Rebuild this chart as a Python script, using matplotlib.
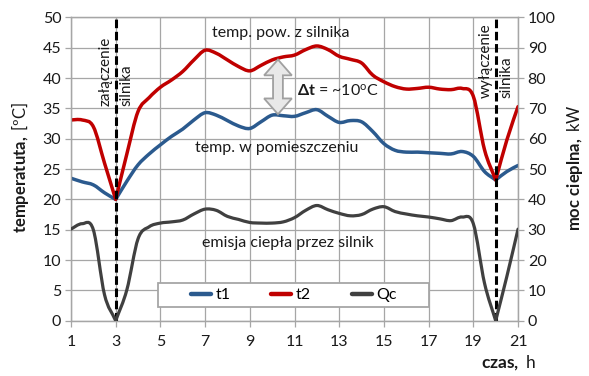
import numpy as np
import matplotlib
matplotlib.use("Agg")
import matplotlib.pyplot as plt
from matplotlib.patches import Polygon, PathPatch, Rectangle
from matplotlib.path import Path
from matplotlib.lines import Line2D

plt.rcParams['font.family'] = ['Lato', 'DejaVu Sans']
plt.rcParams['mathtext.fontset'] = 'custom'
plt.rcParams['mathtext.rm'] = 'Lato'
plt.rcParams['mathtext.bf'] = 'Lato:bold'
plt.rcParams['mathtext.it'] = 'Lato:italic'

# time, h (half-hour readings)
hours = [1.0, 1.5, 2.0, 2.5, 3.0, 3.5, 4.0, 4.5, 5.0, 5.5, 6.0, 6.5, 7.0, 7.5,
         8.0, 8.5, 9.0, 9.5, 10.0, 10.5, 11.0, 11.5, 12.0, 12.5, 13.0, 13.5,
         14.0, 14.5, 15.0, 15.5, 16.0, 16.5, 17.0, 17.5, 18.0, 18.5, 19.0,
         19.5, 20.0, 20.5, 21.0]

# room temperature t1, degC
t1 = [23.5, 22.9, 22.4, 21.1, 20.0, 23.0, 25.7, 27.5, 29.0, 30.4, 31.6, 33.1,
      34.3, 33.9, 33.0, 32.1, 31.7, 32.8, 33.9, 33.8, 33.7, 34.3, 34.8, 33.7,
      32.7, 33.0, 32.8, 31.2, 29.2, 28.1, 27.8, 27.8, 27.7, 27.6, 27.5, 27.9,
      27.1, 24.6, 23.2, 24.6, 25.6]

# engine surface temperature t2, degC
t2 = [33.1, 33.1, 32.0, 26.0, 20.0, 27.5, 34.5, 36.8, 38.5, 39.7, 41.1, 43.0,
      44.6, 44.1, 43.0, 41.9, 41.2, 42.1, 43.0, 43.5, 43.8, 44.7, 45.3, 44.7,
      43.6, 43.1, 42.5, 40.5, 39.4, 38.6, 38.2, 38.3, 38.5, 38.2, 38.1, 38.3,
      37.0, 28.2, 23.2, 29.8, 35.3]

# heat emitted by the engine Qc, kW
qc = [30.2, 32.0, 30.0, 8.6, 0.0, 10.2, 27.0, 31.0, 32.2, 32.6, 33.2, 35.2,
      36.8, 36.4, 34.4, 33.4, 32.4, 32.2, 32.2, 32.6, 34.0, 36.4, 38.0, 36.6,
      35.4, 34.6, 35.0, 36.8, 37.6, 36.0, 35.2, 34.6, 34.2, 33.6, 33.0, 34.2,
      32.0, 12.4, 0.0, 14.6, 30.2]

engine_on = 3
engine_off = 20
x_ticks = list(range(1, 22, 2))

c_t1 = '#2B5A8E'
c_t2 = '#C00000'
c_qc = '#404040'
grid_c = '#A6A6A6'
txt_c = '#1a1a1a'


def smooth_path(x, y, corners=()):
    """Smoothed line through the points (Catmull-Rom as cubic Bezier);
    points listed in `corners` keep a sharp turn."""
    pts = np.column_stack([np.asarray(x, float), np.asarray(y, float)])
    n = len(pts)
    tang = np.zeros_like(pts)
    for i in range(n):
        lo = max(i - 1, 0)
        hi = min(i + 1, n - 1)
        tang[i] = pts[hi] - pts[lo]
    verts = [pts[0]]
    codes = [Path.MOVETO]
    for i in range(n - 1):
        p1, p2 = pts[i], pts[i + 1]
        t_out = 2 * (p2 - p1) if i in corners else tang[i]
        t_in = 2 * (p2 - p1) if (i + 1) in corners else tang[i + 1]
        verts += [p1 + t_out / 6.0, p2 - t_in / 6.0, p2]
        codes += [Path.CURVE4] * 3
    return Path(np.array(verts), codes)


fig = plt.figure(figsize=(5.89, 3.76), dpi=100)
ax = fig.add_axes([0.1205, 0.147, 0.759, 0.8065])
ax2 = ax.twinx()

ax.set_xlim(1, 21)
ax.set_ylim(0, 50)
ax2.set_ylim(0, 100)
ax.set_xticks(x_ticks)
ax.set_yticks(range(0, 51, 5))
ax2.set_yticks(range(0, 101, 10))

for a in (ax, ax2):
    for s in a.spines.values():
        s.set_color(grid_c)
        s.set_linewidth(0.9)
    a.tick_params(colors=grid_c, labelcolor=txt_c, labelsize=11.5,
                  length=4, width=0.9)
ax.tick_params(axis='x', pad=6)
ax.tick_params(axis='y', pad=3)
ax2.tick_params(axis='y', pad=3)
ax.grid(True, color=grid_c, linewidth=0.9)
ax.set_axisbelow(True)

corner_idx = (hours.index(engine_on), hours.index(engine_off))
series = [(ax, t1, c_t1, 2.5), (ax, t2, c_t2, 2.5), (ax2, qc, c_qc, 2.3)]
for a, vals, col, lw in series:
    patch = PathPatch(smooth_path(hours, vals, corner_idx), facecolor='none',
                      edgecolor=col, lw=lw, capstyle='round',
                      joinstyle='round', zorder=3)
    a.add_patch(patch)

# engine switch-on / switch-off markers
for xv in (engine_on, engine_off):
    ax.axvline(xv, color='black', lw=2.2, dashes=(2.8, 1.2), zorder=4)

for xv, y0, first, second in ((engine_on, 35.4, 'załączenie', 'silnika'),
                              (engine_off, 36.7, 'wyłączenie', 'silnika')):
    for word, dx in ((first, -7.0), (second, 7.5)):
        ax.annotate(word, (xv, y0), xytext=(dx, 0), textcoords='offset points',
                    rotation=90, ha='center', va='bottom', fontsize=11,
                    color=txt_c, zorder=5)

# curve descriptions
ax.text(10.4, 47.4, 'temp. pow. z silnika', ha='center', va='center',
        fontsize=11.5, color=txt_c)
ax.text(10.2, 28.4, 'temp. w pomieszczeniu', ha='center', va='center',
        fontsize=11.5, color=txt_c)
ax.text(10.7, 12.8, 'emisja ciepła przez silnik', ha='center', va='center',
        fontsize=11.5, color=txt_c)
ax.text(11.1, 38.0, r'$\mathbf{\Delta t}$ = ~10$^{\mathrm{o}}$C', ha='left',
        va='center', fontsize=11.5, color=txt_c)

# double-headed arrow between the two temperature curves
xa = 10.26
top = float(np.interp(xa, hours, t2)) - 0.2
bot = float(np.interp(xa, hours, t1)) + 0.2
hw, sw, hl = 0.62, 0.22, 2.6
arrow_pts = [(xa, top), (xa + hw, top - hl), (xa + sw, top - hl),
             (xa + sw, bot + hl), (xa + hw, bot + hl), (xa, bot),
             (xa - hw, bot + hl), (xa - sw, bot + hl), (xa - sw, top - hl),
             (xa - hw, top - hl)]
ax.add_patch(Polygon(arrow_pts, closed=True, facecolor='#E8E8E8',
                     edgecolor='#A0A0A0', lw=1.3, zorder=5))

# legend box and entries
ax.add_patch(Rectangle((0.195, 0.045), 0.606, 0.079, transform=ax.transAxes,
                       facecolor='white', edgecolor='#A6A6A6', lw=1.3,
                       zorder=6))
handles = [Line2D([], [], color=c_t1, lw=3.2, solid_capstyle='round'),
           Line2D([], [], color=c_t2, lw=3.2, solid_capstyle='round'),
           Line2D([], [], color=c_qc, lw=3.2, solid_capstyle='round')]
leg = ax.legend(handles, ['t1', 't2', 'Qc'], ncol=3, loc='center',
                bbox_to_anchor=(0.499, 0.0845), fontsize=11.5, frameon=False,
                handlelength=1.25, handletextpad=0.3, columnspacing=2.55,
                borderpad=0.2)
leg.set_zorder(7)

fig.text(0.034, 0.555, r'$\mathbf{temperatuta,}$ [ºC]', rotation=90,
         ha='center', va='center', fontsize=12, color=txt_c)
fig.text(0.977, 0.555, r'$\mathbf{moc\ cieplna,}$ kW', rotation=90,
         ha='center', va='center', fontsize=12, color=txt_c)
fig.text(0.909, 0.037, r'$\mathbf{czas,}$ h', ha='right', va='center',
         fontsize=12.5, color=txt_c)

fig.savefig('out.png', dpi=100)
